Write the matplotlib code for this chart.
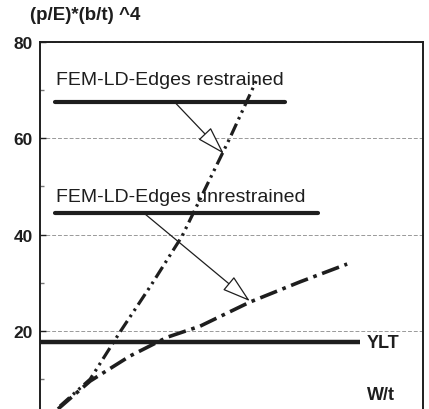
import numpy as np
import matplotlib
matplotlib.use('Agg')
import matplotlib.pyplot as plt

plt.rcParams['font.family'] = ['Liberation Sans', 'DejaVu Sans']

# DATA (x = W/t in arbitrary units 0-100, y = (p/E)*(b/t)^4)
x_restr = [5.2, 13.1, 20.9, 29.0, 37.1, 49.6, 56.9]
y_restr = [4.4, 10.0, 19.8, 29.5, 39.7, 60.1, 72.7]

x_unres = [4.7, 13.1, 23.5, 33.2, 41.8, 54.8, 67.9, 80.2]
y_unres = [3.8, 9.6, 14.8, 18.7, 21.0, 26.0, 30.2, 33.9]

ylt_value = 17.7
yticks = [20, 40, 60, 80]
yminor = [10, 30, 50, 70]

ink = '#1e1e1e'

fig = plt.figure(figsize=(4.29, 4.10), dpi=100)
ax = fig.add_axes([40/429, 0.0, 383/429, 367/410])

ax.set_xlim(0, 100)
ax.set_ylim(3.8, 80)

for spine in ['left', 'right', 'top']:
    ax.spines[spine].set_linewidth(1.4)
    ax.spines[spine].set_color(ink)
ax.spines['bottom'].set_visible(False)

ax.set_xticks([])
ax.set_yticks(yticks)
ax.set_yticks(yminor, minor=True)
ax.tick_params(axis='y', which='major', direction='in', length=4, width=1,
               labelsize=12.5, colors=ink, pad=5)
ax.tick_params(axis='y', which='minor', direction='in', length=3, width=1, colors='#777777')
for lab in ax.get_yticklabels():
    lab.set_fontweight('bold')

ax.grid(True, axis='y', color='#999999', linestyle=(0, (4, 2)), linewidth=0.7)

# curves
ax.plot(x_restr, y_restr, color=ink, linewidth=2.3,
        linestyle=(0, (4, 1.5, 0.8, 1.5, 0.8, 1.5)), zorder=3)
ax.plot(x_unres, y_unres, color=ink, linewidth=2.6,
        linestyle=(0, (5, 1.6, 1, 1.6)), zorder=3)

# YLT line
ax.plot([0, 83.5], [ylt_value, ylt_value], color=ink, linewidth=3.2, solid_capstyle='butt', zorder=4)
ax.text(85.3, ylt_value, 'YLT', fontsize=13, fontweight='bold', color=ink,
        ha='left', va='center')
ax.text(85.3, 6.8, 'W/t', fontsize=13, fontweight='bold', color=ink,
        ha='left', va='center')

# labels with underline
ax.text(4.3, 72.2, 'FEM-LD-Edges restrained', fontsize=14, color=ink, ha='left', va='center')
ax.plot([4.0, 64.0], [67.6, 67.6], color=ink, linewidth=3.0, solid_capstyle='round')
ax.text(4.3, 48.0, 'FEM-LD-Edges unrestrained', fontsize=14, color=ink, ha='left', va='center')
ax.plot([4.0, 72.6], [44.5, 44.5], color=ink, linewidth=3.0, solid_capstyle='round')

arrow_kw = dict(arrowstyle='-|>,head_length=1.8,head_width=0.55', color=ink,
                lw=0.9, shrinkA=0, shrinkB=0)
ax.annotate('', xy=(48.0, 56.8), xytext=(35.3, 67.4),
            arrowprops=dict(arrow_kw, fc='white', ec=ink))
ax.annotate('', xy=(54.8, 26.2), xytext=(27.4, 44.3),
            arrowprops=dict(arrow_kw, fc='white', ec=ink))

fig.text(30/429, 1 - 15/410, '(p/E)*(b/t) ^4', fontsize=13.5, fontweight='bold',
         color=ink, ha='left', va='center')

fig.savefig('out.png', dpi=100)
